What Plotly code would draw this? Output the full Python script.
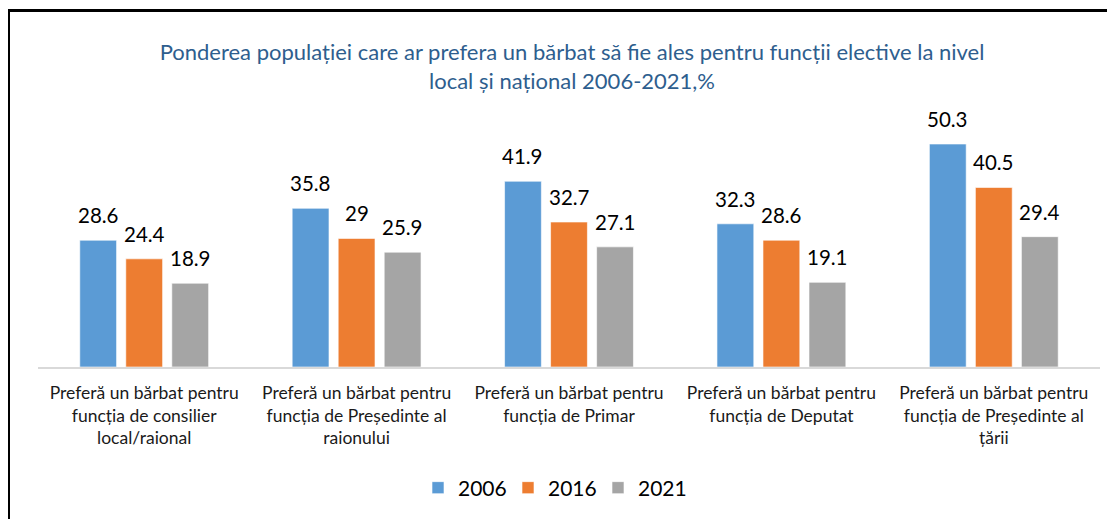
import plotly.graph_objects as go

categories = [
    "Preferă un bărbat pentru<br>funcția de consilier<br>local/raional",
    "Preferă un bărbat pentru<br>funcția de Președinte al<br>raionului",
    "Preferă un bărbat pentru<br>funcția de Primar",
    "Preferă un bărbat pentru<br>funcția de Deputat",
    "Preferă un bărbat pentru<br>funcția de Președinte al<br>țării",
]
v2006 = [28.6, 35.8, 41.9, 32.3, 50.3]
v2016 = [24.4, 29, 32.7, 28.6, 40.5]
v2021 = [18.9, 25.9, 27.1, 19.1, 29.4]

series = [("2006", v2006, "#5B9BD5"), ("2016", v2016, "#ED7D31"), ("2021", v2021, "#A5A5A5")]

# page has an 8px body margin, so the figure is drawn 8px smaller/offset
W, H = 1107, 511
ml, mr, mt, mb = 30, 15, 93, 152
pw = W - ml - mr
ph = H - mt - mb
bargap, bargroupgap = 0.35, 0.2
slot = pw / len(categories) * (1 - bargap) / len(series)

def px2x(px):
    return (px - ml) / pw

def py2y(py):
    return (H - mb - py) / ph

fig = go.Figure()
annotations = []
for i, (name, vals, color) in enumerate(series):
    fig.add_trace(go.Bar(
        x=categories, y=vals, name=name,
        marker=dict(color=color, line=dict(color="rgba(255,255,255,0.6)", width=1)),
    ))
    off = (i - (len(series) - 1) / 2) * slot
    for c, v in zip(categories, vals):
        annotations.append(dict(
            x=c, y=v, xref="x", yref="y", text=str(v), showarrow=False,
            xanchor="center", yanchor="bottom", xshift=off, yshift=11,
            font=dict(size=20.5, color="#000000", family="Lato"),
        ))

fig.update_layout(
    width=W, height=H, autosize=False,
    margin=dict(l=ml, r=mr, t=mt, b=mb, autoexpand=False),
    paper_bgcolor="white", plot_bgcolor="white",
    barmode="group", bargap=bargap, bargroupgap=bargroupgap,
    font=dict(family="Lato", color="#000000"),
    title=dict(
        text="Ponderea populației care ar prefera un bărbat să fie ales pentru funcții elective la nivel<br>local și național 2006-2021,%",
        x=px2x(564), xref="paper", xanchor="center",
        y=1 - 52 / H, yref="container", yanchor="middle",
        font=dict(size=22, color="#2E5E8E", family="Lato"),
    ),
    xaxis=dict(showline=True, linecolor="#D9D9D9", linewidth=1.5, ticks="",
               tickangle=0, automargin=False, ticklabelstandoff=9,
               tickfont=dict(size=17.5, color="#1A1A1A"), fixedrange=True),
    yaxis=dict(range=[0, 60], visible=False, showgrid=False, fixedrange=True,
               automargin=False),
    legend=dict(orientation="h", x=px2x(545), xanchor="center", xref="paper",
                y=1 - 480 / H, yref="container", yanchor="middle",
                font=dict(size=21), itemwidth=30, entrywidth=45,
                traceorder="normal"),
    showlegend=True,
    annotations=annotations,
    shapes=[dict(type="rect", xref="paper", yref="paper",
                 x0=px2x(0.5), x1=px2x(1125), y0=py2y(2.5), y1=py2y(530),
                 line=dict(color="black", width=3), fillcolor="rgba(0,0,0,0)",
                 layer="above")],
)

fig.write_html("out.html")
